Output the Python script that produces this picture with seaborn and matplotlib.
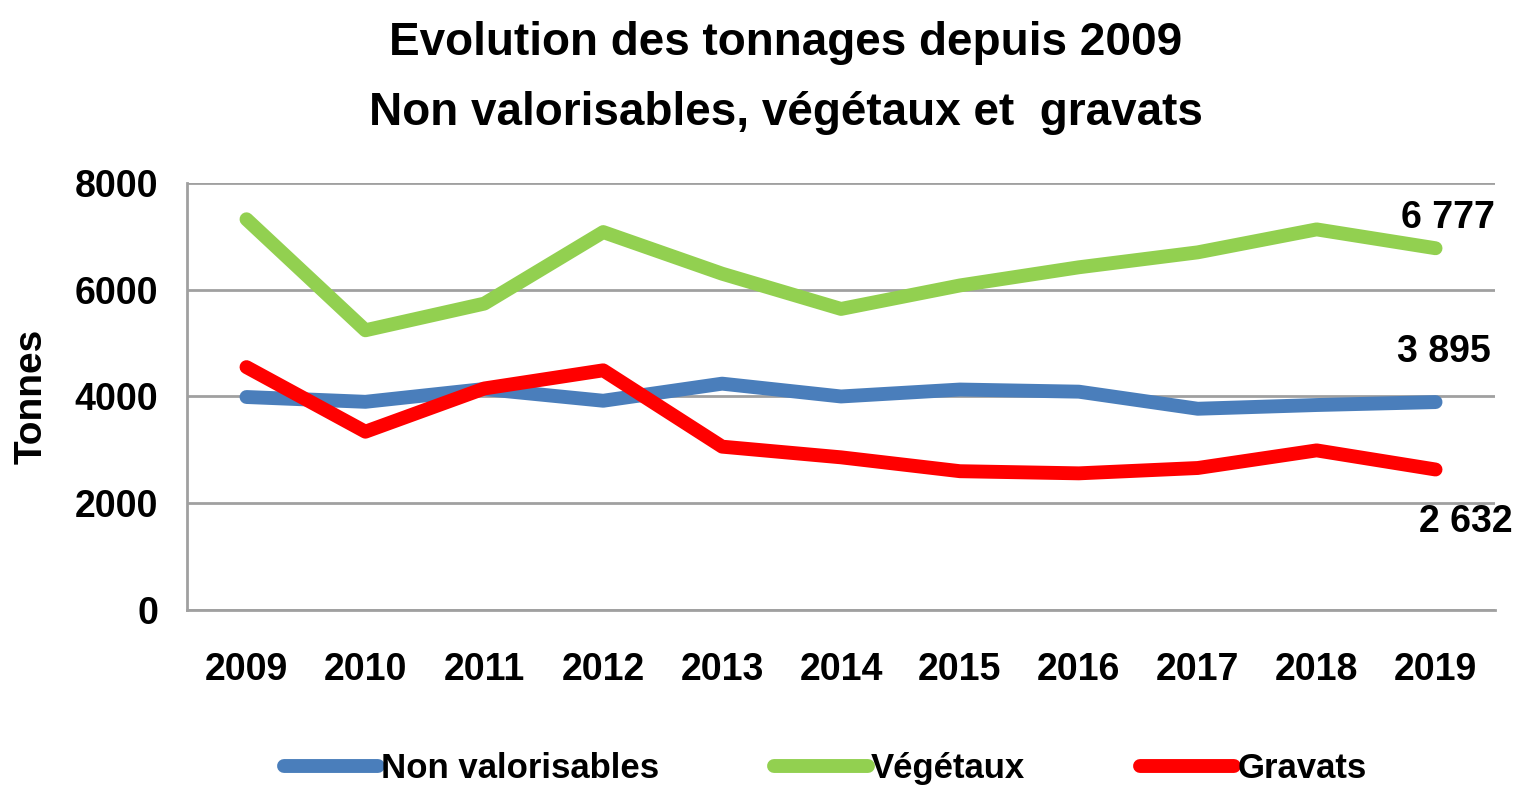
import pandas as pd
import matplotlib.pyplot as plt
import seaborn as sns

# values
years = ['2009', '2010', '2011', '2012', '2013', '2014', '2015', '2016', '2017', '2018', '2019']
non_valorisables = [3990, 3900, 4140, 3920, 4240, 4000, 4130, 4090, 3770, 3840, 3895]
vegetaux = [7320, 5240, 5740, 7080, 6300, 5640, 6080, 6420, 6700, 7130, 6777]
gravats = [4550, 3340, 4150, 4490, 3060, 2860, 2600, 2560, 2660, 2990, 2632]
series_names = ['Non valorisables', 'Végétaux', 'Gravats']
colors = ['#4A7EBB', '#92D050', '#FF0000']
last_labels = ['3 895', '6 777', '2 632']

data = pd.DataFrame({
    'Annee': years * 3,
    'Tonnes': non_valorisables + vegetaux + gravats,
    'Serie': [series_names[0]] * 11 + [series_names[1]] * 11 + [series_names[2]] * 11
})

sns.set_style('white')
plt.rcParams['font.family'] = ['Liberation Sans Narrow', 'Liberation Sans', 'DejaVu Sans']
plt.rcParams['font.weight'] = 'bold'
plt.rcParams['text.color'] = 'black'
plt.rcParams['axes.labelcolor'] = 'black'

fig = plt.figure(figsize=(15.17, 7.92), dpi=100)
ax = fig.add_axes([0.1233, 0.2298, 0.8622, 0.5392])

sns.lineplot(
    data=data,
    x='Annee',
    y='Tonnes',
    hue='Serie',
    palette=colors,
    linewidth=10,
    solid_capstyle='round',
    solid_joinstyle='round',
    sort=False,
    legend=True,
    ax=ax
)

ax.set_xlim(-0.5, len(years) - 0.5)
ax.set_ylim(0, 8000)
ax.set_yticks([0, 2000, 4000, 6000, 8000])
ax.grid(axis='y', color='#A0A0A0', linewidth=2)
ax.set_axisbelow(True)

for s in ['top', 'right']:
    ax.spines[s].set_visible(False)
for s in ['left', 'bottom']:
    ax.spines[s].set_color('#A0A0A0')
    ax.spines[s].set_linewidth(2)

# category ticks between years
ax.set_xticks([i - 0.5 for i in range(len(years) + 1)], minor=True)
ax.tick_params(axis='x', which='minor', length=14, width=1.5, color='#A0A0A0', direction='out')
ax.tick_params(axis='x', which='major', length=0, pad=30, labelsize=27, labelcolor='black')
ax.tick_params(axis='y', length=9, width=2, color='#A0A0A0', pad=12, labelsize=27, labelcolor='black')

ax.set_xlabel('')
ax.set_ylabel('Tonnes', fontsize=28, fontweight='bold', labelpad=18)

# labels on last points
last_vals = [non_valorisables[-1], vegetaux[-1], gravats[-1]]
offsets = [(6, 36), (9, 22), (22, -38)]
for v, lab, off in zip(last_vals, last_labels, offsets):
    ax.annotate(lab, (len(years) - 1, v), xytext=off, textcoords='offset points',
                ha='center', va='center', fontsize=27, fontweight='bold', color='black')

# legend at the bottom
handles, labels = ax.get_legend_handles_labels()
ax.get_legend().remove()
fig.legend(handles, labels, loc='center', bbox_to_anchor=(0.544, 0.03), ncol=3,
           frameon=False, fontsize=25, handlelength=2.7, handletextpad=0.1,
           columnspacing=3.3)

fig.suptitle('Evolution des tonnages depuis 2009\nNon valorisables, végétaux et  gravats',
             x=0.518, y=0.973, fontsize=33, fontweight='bold', linespacing=1.75)

plt.savefig('out.png', dpi=100)
